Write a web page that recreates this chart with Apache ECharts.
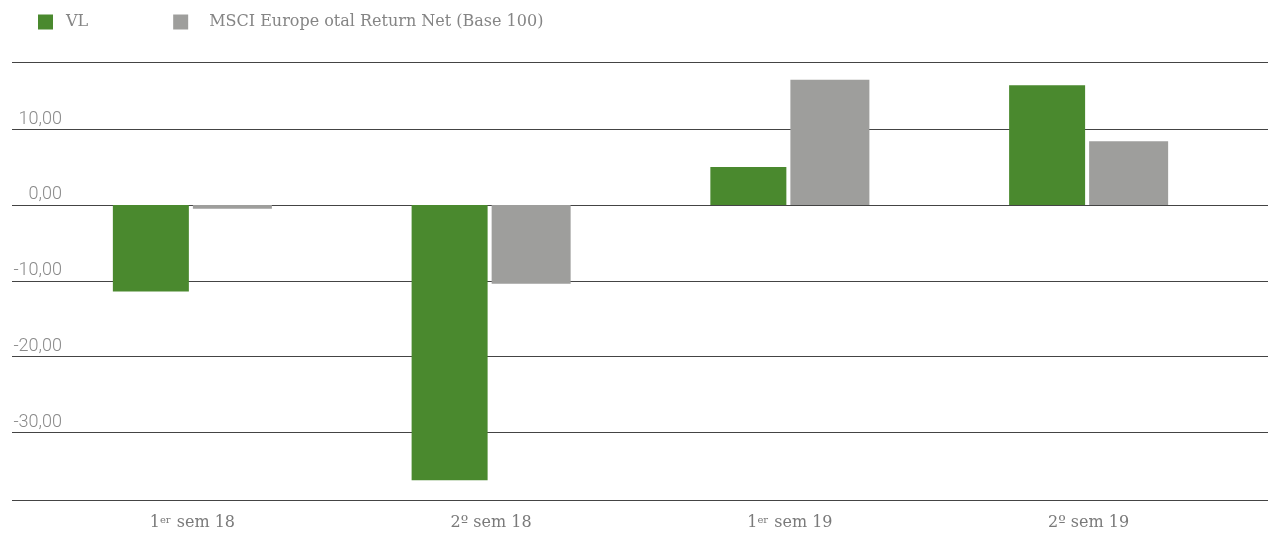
<!DOCTYPE html>
<html><head><meta charset="utf-8">
<script src="https://cdn.jsdelivr.net/npm/echarts@6/dist/echarts.min.js"></script>
<style>html,body{margin:0;padding:0;background:#fff}#c{width:1269px;height:537px}</style>
</head><body><div id="c"></div>
<script>
var categories = ['1er sem 18', '2º sem 18', '1er sem 19', '2º sem 19'];
var seriesNames = ['VL', 'MSCI Europe otal Return Net (Base 100)'];
var vlValues = [-11.4, -36.3, 5.0, 15.8];
var msciValues = [-0.5, -10.4, 16.5, 8.4];
var yMin = -38.9, yMax = 18.85, yStep = 10;

var GREEN = '#4A892E', GRAY = '#9E9E9C';
var chart = echarts.init(document.getElementById('c'), null, {renderer: 'canvas'});
var serif = 'DejaVu Serif';
chart.setOption({
  animation: false,
  legend: {
    left: 33, top: 9, itemWidth: 15, itemHeight: 15, itemGap: 85,
    icon: 'rect',
    textStyle: {fontFamily: serif, fontSize: 16, color: '#858585'},
    data: [
      {name: seriesNames[0], textStyle: {padding: [0, 0, 0, 8]}},
      {name: seriesNames[1], textStyle: {padding: [0, 0, 0, 16]}}
    ]
  },
  grid: [
    {left: 12, right: 1, top: 62, bottom: 37},
    {left: 43, right: 31, top: 62, bottom: 37}
  ],
  xAxis: [
    {gridIndex: 0, type: 'value', min: 0, max: 1, show: false},
    {gridIndex: 1, type: 'category', data: categories,
      axisLine: {show: false}, axisTick: {show: false},
      axisLabel: {
        margin: 15,
        fontFamily: serif, fontSize: 16, color: '#7a7a7a',
        formatter: function (v) { return v.replace(/^1er/, '1{sup|er}'); },
        rich: {sup: {fontFamily: serif, fontSize: 10, color: '#7a7a7a', verticalAlign: 'bottom', padding: [0, 1, 6, 0]}}
      }
    }
  ],
  yAxis: [
    {gridIndex: 0, type: 'value', min: yMin, max: yMax, minInterval: yStep, maxInterval: yStep,
      axisLine: {show: false}, axisTick: {show: false},
      splitLine: {show: true, lineStyle: {color: '#444', width: 1}},
      axisLabel: {
        inside: true, align: 'right', verticalAlign: 'bottom', margin: 50,
        showMinLabel: false, showMaxLabel: false,
        padding: [0, 0, 1, 0],
        fontFamily: 'Roboto', fontWeight: 300, fontSize: 18, color: '#8a8a8a',
        formatter: function (v) { return v.toFixed(2).replace('.', ','); }
      }
    },
    {gridIndex: 1, type: 'value', min: yMin, max: yMax, show: false, splitLine: {show: false}}
  ],
  series: [
    {name: seriesNames[0], type: 'bar', xAxisIndex: 1, yAxisIndex: 1, data: vlValues,
      barWidth: 76, barGap: '5.3%', itemStyle: {color: GREEN}},
    {name: seriesNames[1], type: 'bar', xAxisIndex: 1, yAxisIndex: 1, data: msciValues,
      barWidth: 79, barGap: '5.3%', itemStyle: {color: GRAY}}
  ]
});
</script></body></html>
